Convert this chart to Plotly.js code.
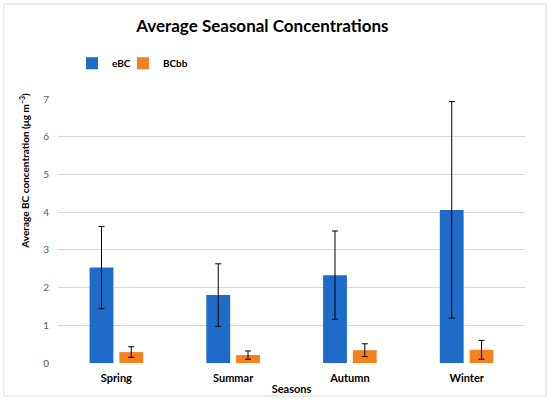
<!DOCTYPE html>
<html><head><meta charset="utf-8">
<script src="https://cdn.plot.ly/plotly-3.0.1.min.js"></script>
<style>html,body{margin:0;padding:0;background:#fff}#c{width:550px;height:400px}</style>
</head><body><div id="c"></div>
<script>
var seasons = ["Spring", "Summar", "Autumn", "Winter"];
var eBC = [2.53, 1.80, 2.33, 4.06];
var eBCerr = [1.09, 0.83, 1.17, 2.87];
var BCbb = [0.29, 0.21, 0.34, 0.35];
var BCbbErr = [0.14, 0.11, 0.17, 0.25];
var yTicks = [0, 1, 2, 3, 4, 5, 6, 7];

var F = "Lato, 'Open Sans', sans-serif";
var traces = [
  {type: "bar", name: "eBC", x: seasons, y: eBC, legend: "legend",
   marker: {color: "#1f6bc9", line: {width: 0}},
   error_y: {type: "data", array: eBCerr, visible: true, color: "#000", thickness: 1, width: 3}},
  {type: "bar", name: "BCbb", x: seasons, y: BCbb, legend: "legend2",
   marker: {color: "#f5801f", line: {width: 0}},
   error_y: {type: "data", array: BCbbErr, visible: true, color: "#000", thickness: 1, width: 3}}
];
var legFont = {family: F, size: 10, color: "#000", weight: "bold"};
var layout = {
  width: 550, height: 400,
  margin: {l: 58, r: 25, t: 99, b: 37},
  paper_bgcolor: "#fff", plot_bgcolor: "#fff",
  font: {family: F, color: "#595959", size: 10},
  title: {text: "<b>Average Seasonal Concentrations</b>", font: {family: F, size: 17, color: "#000"},
          x: 0.477, xanchor: "center", y: 0.935, yanchor: "middle"},
  barmode: "group", bargap: 0.49, bargroupgap: 0.2,
  showlegend: true,
  legend: {orientation: "h", x: 0.030, y: 1.135, xanchor: "left", yanchor: "middle",
           font: legFont, itemwidth: 30, bgcolor: "rgba(0,0,0,0)"},
  legend2: {orientation: "h", x: 0.139, y: 1.135, xanchor: "left", yanchor: "middle",
           font: legFont, itemwidth: 30, bgcolor: "rgba(0,0,0,0)"},
  xaxis: {type: "category", tickfont: {family: F, size: 11, color: "#000", weight: "bold"},
          showgrid: false, zeroline: false, showline: false, ticks: "", ticklabelstandoff: 7,
          title: {text: "<b>Seasons</b>", font: {family: F, size: 11, color: "#000"}, standoff: 2}},
  yaxis: {range: [0, 7], tickvals: yTicks, showgrid: true, gridcolor: "#d9d9d9", gridwidth: 1,
          zeroline: false, showline: false, ticks: "", ticklen: 0, ticklabelstandoff: 8,
          tickfont: {family: F, size: 10, color: "#595959"}, automargin: false},
  annotations: [{text: "<b>Average BC concentration (μg m<sup>−3</sup>)</b>", textangle: -90,
                 xref: "paper", yref: "paper", x: -0.072, y: 0.73, xanchor: "center", yanchor: "middle",
                 showarrow: false, font: {family: F, size: 10, color: "#000"}}],
  shapes: [{type: "rect", xref: "paper", yref: "paper", x0: -0.116, x1: 1.045, y0: -0.125, y1: 1.36,
            line: {color: "#d9d9d9", width: 1}, fillcolor: "rgba(0,0,0,0)", layer: "below"}]
};
Plotly.newPlot("c", traces, layout, {displayModeBar: false, staticPlot: true});
</script></body></html>
